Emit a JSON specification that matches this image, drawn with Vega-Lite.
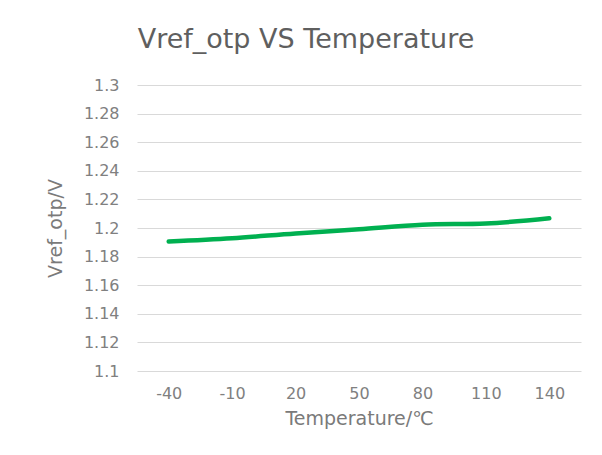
{
  "$schema": "https://vega.github.io/schema/vega-lite/v6.json",
  "width": 444,
  "height": 286,
  "autosize": {"type": "none"},
  "padding": {"left": 137, "top": 85, "right": 21, "bottom": 84},
  "background": "white",
  "title": {
    "text": "Vref_otp VS Temperature",
    "anchor": "middle",
    "dx": -53,
    "offset": 23,
    "font": "DejaVu Sans",
    "fontSize": 27,
    "fontWeight": "normal",
    "color": "#5f5f5f"
  },
  "data": {
    "values": [
      {"Temperature": "-40", "Vref_otp": 1.1905},
      {"Temperature": "-10", "Vref_otp": 1.1928},
      {"Temperature": "20", "Vref_otp": 1.1962},
      {"Temperature": "50", "Vref_otp": 1.1991},
      {"Temperature": "80", "Vref_otp": 1.2023},
      {"Temperature": "110", "Vref_otp": 1.2032},
      {"Temperature": "140", "Vref_otp": 1.2068}
    ]
  },
  "mark": {"type": "line", "color": "#00B050", "strokeWidth": 4.5, "interpolate": "monotone", "strokeCap": "round"},
  "encoding": {
    "x": {
      "field": "Temperature",
      "type": "ordinal",
      "sort": null,
      "scale": {"type": "point", "padding": 0.5},
      "axis": {
        "title": "Temperature/℃",
        "labelAngle": 0,
        "ticks": false,
        "domain": false,
        "grid": false,
        "labelPadding": 14,
        "titlePadding": 8,
        "labelFontSize": 16
      }
    },
    "y": {
      "field": "Vref_otp",
      "type": "quantitative",
      "scale": {"domain": [1.1, 1.3], "nice": false, "zero": false},
      "axis": {
        "title": "Vref_otp/V",
        "values": [1.1, 1.12, 1.14, 1.16, 1.18, 1.2, 1.22, 1.24, 1.26, 1.28, 1.3],
        "format": ".2~f",
        "ticks": false,
        "domain": false,
        "labelPadding": 18,
        "titlePadding": 18,
        "gridColor": "#d9d9d9",
        "gridWidth": 1.2
      }
    }
  },
  "config": {
    "view": {"stroke": null},
    "axis": {
      "labelFont": "DejaVu Sans",
      "labelFontSize": 16,
      "labelColor": "#808080",
      "titleFont": "DejaVu Sans",
      "titleFontSize": 19,
      "titleFontWeight": "normal",
      "titleColor": "#7a7a7a"
    }
  }
}
